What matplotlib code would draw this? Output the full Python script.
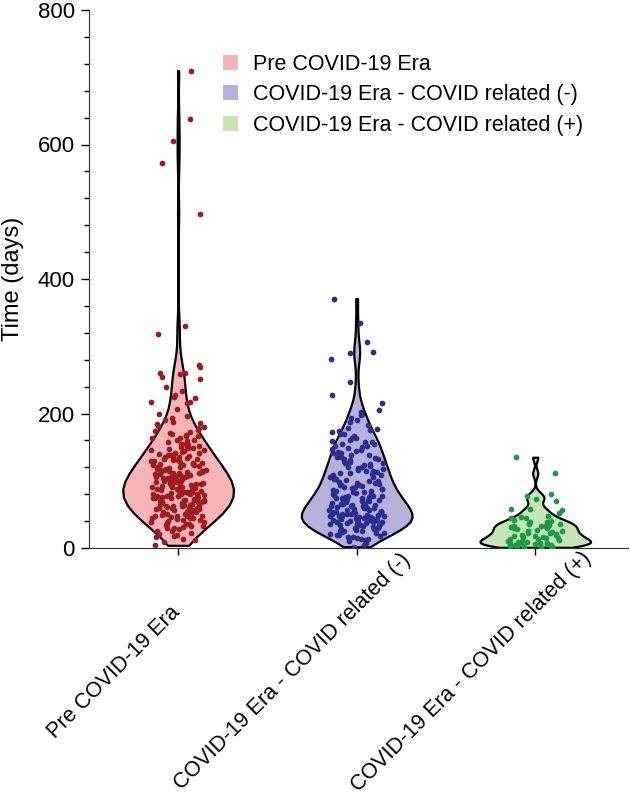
import numpy as np
import matplotlib.pyplot as plt
import matplotlib.transforms as mtransforms
from matplotlib.patches import Patch

plt.rcParams['font.family'] = ['Liberation Sans', 'DejaVu Sans']

categories = ['Pre COVID-19 Era',
              'COVID-19 Era - COVID related (-)',
              'COVID-19 Era - COVID related (+)']

# time in days (approximate)
pre_era = [4, 9, 12, 14, 16, 18, 19,
           21, 23, 25, 26, 28, 29, 31, 32, 33, 34, 35, 36, 37, 38, 39, 30,
           40, 41, 42, 43, 44, 44, 45, 46, 47, 48, 48, 49, 50, 51, 51, 52, 53, 54, 54, 55, 56, 56,
           57, 58, 58, 59, 59, 47,
           60, 60, 61, 62, 62, 63, 63, 64, 65, 65, 66, 66, 67, 68, 68, 69, 70, 70, 71, 71, 72, 72,
           73, 74, 74, 75, 75, 76, 76, 77, 78, 78, 79, 79, 64, 69,
           80, 80, 81, 82, 82, 83, 84, 84, 85, 86, 86, 87, 88, 88, 89, 90, 90, 91, 92, 92, 93, 94,
           94, 95, 96, 96, 97, 98, 98, 99, 85, 91, 83, 97, 81, 87, 89, 95,
           100, 101, 102, 102, 103, 104, 105, 106, 106, 107, 108, 109, 110, 110, 111, 112, 113, 114,
           114, 115, 116, 117, 118, 119, 104, 109, 113, 117, 101, 107, 111, 116,
           120, 121, 122, 123, 124, 125, 126, 127, 128, 129, 130, 131, 132, 133, 134, 135, 136, 137,
           138, 139, 125, 131, 123, 136,
           140, 141, 142, 143, 145, 146, 147, 148, 149, 150, 151, 152, 153, 154, 155, 156, 158, 159, 144,
           160, 161, 163, 164, 166, 167, 168, 169, 171, 172, 174, 176, 178,
           180, 182, 184, 186, 187, 190, 193, 197, 199,
           206, 215, 217, 217, 223, 224, 227, 233, 239,
           251, 254, 258, 260, 260, 269, 272,
           318, 330, 497, 573, 605, 638, 710]

covid_neg = [2, 5, 8, 10, 12, 13, 14, 15, 16, 17, 18, 19,
             20, 21, 22, 23, 24, 25, 26, 26, 27, 28, 28, 29, 30, 30, 31, 32, 32, 33, 34, 34, 35, 35,
             36, 36, 37, 37, 38, 38, 39, 39,
             40, 40, 41, 41, 42, 42, 43, 43, 44, 44, 45, 45, 46, 46, 47, 47, 48, 48, 49, 49, 50, 50,
             51, 51, 52, 52, 53, 53, 54, 54, 55, 56, 57, 57, 58, 59,
             60, 60, 61, 62, 62, 63, 64, 64, 65, 66, 66, 67, 68, 68, 69, 70, 70, 71, 72, 72, 73, 74,
             74, 75, 76, 76, 77, 78, 78, 79,
             80, 81, 82, 83, 84, 85, 86, 87, 88, 89, 90, 91, 92, 93, 94, 95, 96, 97, 98, 99, 85, 93,
             100, 101, 102, 104, 105, 106, 107, 109, 110, 111, 112, 113, 114, 115, 116, 117, 118, 119,
             103, 108,
             120, 122, 123, 125, 126, 128, 129, 131, 132, 134, 135, 136, 138, 139, 121, 127, 133,
             141, 143, 144, 146, 148, 150, 152, 154, 155, 157, 159, 142, 147, 151, 158,
             161, 164, 166, 169, 172, 174, 177, 179, 163, 170, 175,
             183, 187, 190, 193, 198, 200,
             202, 205, 215, 227, 247,
             281, 290, 291, 307, 335, 371]

covid_pos = [1, 2, 2, 3, 3, 4, 4, 5, 5, 6, 6, 7, 7, 8, 8, 9, 9, 10,
             11, 12, 13, 14, 15, 15, 16, 17, 18, 18, 19, 20,
             21, 22, 23, 24, 25, 26, 27, 28, 29, 30,
             31, 32, 33, 33, 34, 35, 36, 37, 38, 39, 40,
             42, 44, 45, 46, 48, 52, 56, 58, 58,
             70, 73, 77, 80, 111, 135]

groups = [pre_era, covid_neg, covid_pos]
fill_colors = ['#f7b5b8', '#b5b1da', '#c7e4b3']
dot_colors = ['#9e1b20', '#2b2d8f', '#1c9a46']

fig = plt.figure(figsize=(6.3, 8), dpi=100)
ax = fig.add_axes([0.141, 0.315, 0.856, 0.6725])

pos = [1, 2, 3]
vp = ax.violinplot(groups, positions=pos, widths=0.62, bw_method=0.24,
                   showextrema=False, points=60)
for body, fc in zip(vp['bodies'], fill_colors):
    body.set_facecolor(fc)
    body.set_edgecolor('black')
    body.set_linewidth(1.6)
    body.set_alpha(1)

rng = np.random.default_rng(3)
for p, vals, c in zip(pos, groups, dot_colors):
    vals = np.array(vals, dtype=float)
    jit = rng.uniform(-0.155, 0.155, len(vals))
    ax.scatter(p + jit, vals, s=17, color=c, zorder=3, linewidths=0)

ax.set_xlim(0.5, 3.52)
ax.set_ylim(0, 800)
ax.set_yticks([0, 200, 400, 600, 800])
ax.set_yticks(np.arange(0, 801, 40), minor=True)
ax.set_xticks(pos)
ax.set_xticklabels(categories, fontsize=15.5)
ax.tick_params(axis='y', labelsize=16, length=6, width=1, pad=4)
ax.tick_params(axis='y', which='minor', length=3.5, width=1)
ax.tick_params(axis='x', length=5, width=1, pad=0)

# labels sit below and to the left of their ticks
shift = mtransforms.ScaledTranslation(-0.64, -1.17, fig.dpi_scale_trans)
for lab in ax.get_xticklabels():
    lab.set_rotation(45)
    lab.set_ha('center')
    lab.set_va('center')
    lab.set_rotation_mode('anchor')
    lab.set_transform(lab.get_transform() + shift)

ax.set_ylabel('Time (days)', fontsize=17)
ax.yaxis.set_label_coords(-0.121, 0.5)
for s in ['top', 'right']:
    ax.spines[s].set_visible(False)
for s in ['left', 'bottom']:
    ax.spines[s].set_color('#333333')

handles = [Patch(facecolor=c, edgecolor='none') for c in fill_colors]
ax.legend(handles, categories, loc='upper left', bbox_to_anchor=(0.233, 0.935),
          borderaxespad=0, frameon=False, fontsize=15.5, handlelength=0.7,
          handleheight=0.7, labelspacing=0.45, handletextpad=0.7)

fig.savefig('out.png', dpi=100)
